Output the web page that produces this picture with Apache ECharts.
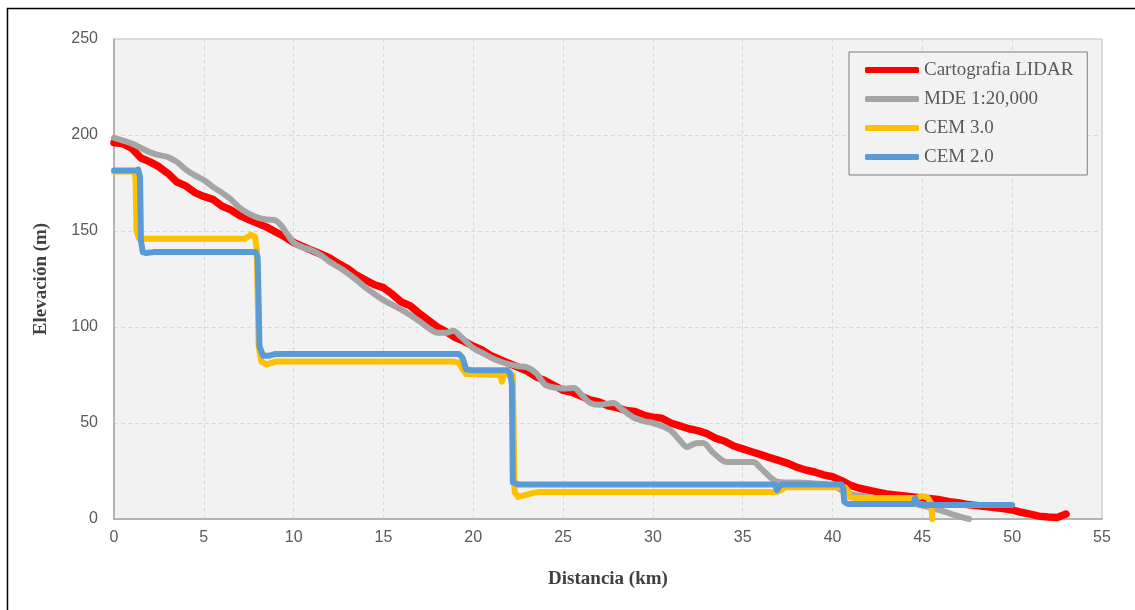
<!DOCTYPE html>
<html>
<head>
<meta charset="utf-8">
<script src="https://cdn.jsdelivr.net/npm/echarts@6/dist/echarts.min.js"></script>
<style>
  html, body { margin: 0; padding: 0; background: #ffffff; }
  #chart { width: 1135px; height: 610px; }
</style>
</head>
<body>
<div id="chart"></div>
<script>
// Elevation profiles along the river (distance km, elevation m)
const seriesNames = ['Cartografia LIDAR', 'MDE 1:20,000', 'CEM 3.0', 'CEM 2.0'];

const lidar = [
  [0,196],[0.5,195.5],[1,193],[1.5,188],[2,186],[2.5,183.5],[3,180],[3.5,175.5],[4,173.5],[4.5,170],
  [5,168],[5.5,166.5],[6,163],[6.5,161],[7,158],[7.5,156],[8,154],[8.5,152],[9,149.5],[9.5,147],
  [10,144],[10.5,142],[11,140],[11.5,138],[12,136],[12.5,133],[13,130.5],[13.5,127],[14,124.5],[14.5,122],
  [15,120.5],[15.5,117],[16,113],[16.5,111],[17,107],[17.5,103.5],[18,100],[18.5,97.5],[19,94.5],[19.5,92.5],
  [20,90],[20.5,88],[21,85],[21.5,83],[22,81],[22.5,79],[23,77],[23.5,74],[24,72],[24.5,69.5],
  [25,67],[25.5,66],[26,64],[26.5,62],[27,61],[27.5,59],[28,58],[28.5,56.5],[29,56],[29.5,54],
  [30,53],[30.5,52.5],[31,50],[31.5,48.5],[32,47],[32.5,46],[33,44.5],[33.5,42],[34,40.5],[34.5,38],
  [35,36.5],[35.5,35],[36,33.5],[36.5,32],[37,30.5],[37.5,29],[38,27],[38.5,25.5],[39,24.5],[39.5,23],
  [40,22],[40.5,20],[41,17.5],[41.5,16],[42,15],[42.5,14],[43,13],[43.5,12.5],[44,12],[44.5,11.5],
  [45,11],[45.5,10.5],[46,10],[46.5,9],[47,8.5],[47.5,7.5],[48,7],[48.5,6.5],[49,6],[49.5,5.5],
  [50,4.7],[50.5,3.5],[51,2.5],[51.5,1.5],[52,1],[52.5,0.8],[53,2.6]
];

const mde = [
  [0,198.5],[1,195.5],[2,191],[2.5,189.5],[3,188.5],[3.5,186],[4,182],[4.5,179],[5,176.5],[5.5,173],
  [6,170],[6.5,166.5],[7,162],[7.5,159],[8,157],[8.5,156],[9,155.5],[9.3,153],[9.6,149],[10,144],
  [10.5,141.5],[11,140],[11.5,137.5],[12,134],[12.75,129.7],[13.5,124.5],[14,120.5],[15,114],[15.5,111.5],[16.3,107.3],
  [17,103],[17.5,99.5],[18,97],[18.5,97],[18.9,98],[19.3,95],[20,89],[20.5,86.5],[21,84],[21.5,82],
  [22,80.5],[22.5,79.5],[23,79],[23.5,76],[24,70],[24.5,68.5],[25,68],[25.6,68.2],[26,65],[26.5,60.5],
  [27,59.5],[27.8,60.4],[28.3,57],[28.9,53],[29.5,51],[30,50],[30.6,48],[31,46],[31.5,41],[31.9,37.5],
  [32.4,39.5],[32.8,39.6],[33.3,35],[33.8,31],[34.1,29.7],[35,29.7],[35.6,29.7],[36,26.5],[36.5,22],[36.9,19.5],
  [37.5,19],[38,19],[39,18.5],[40,17.5],[40.5,15],[41,13],[42,11.5],[43,10],[44,9],[45,7],
  [46,4.5],[47,1.5],[47.6,0]
];

const cem3 = [
  [0,181],[1.1,181],[1.2,178],[1.25,150],[1.4,146],[2,146],[7.3,146],[7.6,148],[7.85,147],[7.95,140],
  [8.05,90],[8.2,82],[8.5,80.5],[9,82],[18.8,82],[19.2,81.5],[19.4,78],[19.6,75.5],[21.5,75],[21.6,71.5],
  [21.7,75],[22.2,75],[22.3,14],[22.5,11.5],[23.3,13.5],[23.6,14],[36.9,14],[37.2,15.5],[37.4,16.5],[40.7,16.5],
  [40.85,15],[40.95,11.5],[41.2,11],[44.7,11],[45.0,12],[45.3,11],[45.5,8],[45.55,0]
];

const cem2 = [
  [0,181.5],[1.2,181.5],[1.35,182],[1.45,178],[1.5,145],[1.6,139],[1.8,138.5],[2.2,139],[7.9,139],[8.0,136],
  [8.1,90],[8.3,85],[8.6,85],[9,86],[19.2,86],[19.4,84],[19.6,78],[19.9,77.5],[21.9,77.5],[22.05,76],
  [22.15,70],[22.2,19],[22.5,18],[36.8,18],[36.9,15],[37.05,17],[37.2,18],[40.5,18],[40.6,16],[40.65,9],
  [40.85,7.8],[44.5,7.8],[44.6,11],[44.7,8],[45,7.3],[50,7.3]
];

const xTicks = { min: 0, max: 55, step: 5 };
const yTicks = { min: 0, max: 250, step: 50 };

const colors = ['#ff0000', '#a5a5a5', '#ffc000', '#5b9bd5'];
const seriesData = [lidar, mde, cem3, cem2];

const chart = echarts.init(document.getElementById('chart'), null, { renderer: 'canvas' });

const tickLabel = { color: '#595959', fontFamily: 'Liberation Sans', fontSize: 16 };
const axisTitle = { color: '#404040', fontFamily: 'Liberation Serif', fontSize: 19, fontWeight: 'bold' };

chart.setOption({
  animation: false,
  backgroundColor: '#ffffff',
  color: colors,
  graphic: [{
    type: 'rect',
    shape: { x: 7.5, y: 8.5, width: 1200, height: 700 },
    style: { fill: 'none', stroke: '#000000', lineWidth: 1.5 },
    silent: true, z: 100
  }],
  grid: {
    left: 114, top: 39, right: 33, bottom: 91,
    show: true, backgroundColor: '#f2f2f2', borderColor: '#bfbfbf', borderWidth: 1
  },
  legend: {
    orient: 'vertical',
    left: 849, top: 52,
    data: seriesNames,
    icon: 'roundRect',
    itemWidth: 54, itemHeight: 6,
    itemGap: 9,
    padding: [8, 14, 8, 16],
    backgroundColor: '#f2f2f2',
    borderColor: '#7f7f7f', borderWidth: 1,
    textStyle: { color: '#595959', fontFamily: 'Liberation Serif', fontSize: 19, lineHeight: 20 }
  },
  xAxis: {
    type: 'value',
    min: xTicks.min, max: xTicks.max, interval: xTicks.step,
    name: 'Distancia (km)', nameLocation: 'middle', nameGap: 51,
    nameTextStyle: axisTitle,
    axisLine: { show: true, lineStyle: { color: '#a6a6a6', width: 1.5 } },
    axisTick: { show: false },
    axisLabel: Object.assign({ margin: 11 }, tickLabel),
    splitLine: { show: true, lineStyle: { color: '#d9d9d9', type: [4, 3], width: 1 } }
  },
  yAxis: {
    type: 'value',
    min: yTicks.min, max: yTicks.max, interval: yTicks.step,
    name: 'Elevación (m)', nameLocation: 'middle', nameGap: 63, nameRotate: 90,
    nameTextStyle: axisTitle,
    axisLine: { show: true, lineStyle: { color: '#a6a6a6', width: 1.5 } },
    axisTick: { show: false },
    axisLabel: Object.assign({ margin: 16 }, tickLabel),
    splitLine: { show: true, lineStyle: { color: '#d9d9d9', type: [4, 3], width: 1 } }
  },
  series: seriesNames.map((name, i) => ({
    name: name,
    type: 'line',
    data: seriesData[i],
    showSymbol: false,
    symbol: 'none',
    clip: true,
    smooth: i === 1 ? 0.3 : false,
    lineStyle: { width: i === 0 ? 7.5 : 6, color: colors[i], cap: 'round', join: 'round' },
    itemStyle: { color: colors[i] },
    z: 2 + i
  }))
});
</script>
</body>
</html>
